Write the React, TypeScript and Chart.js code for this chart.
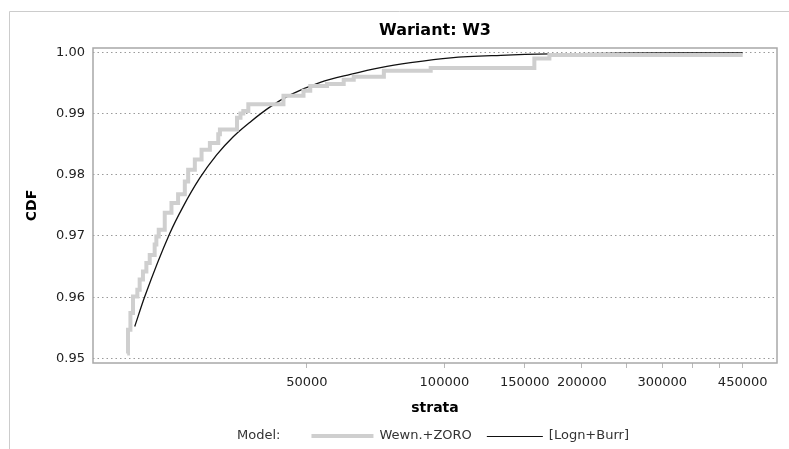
import React, { useEffect, useRef } from "react";
import { Chart, registerables } from "chart.js";

Chart.register(...registerables);

const TITLE = "Wariant: W3";
const X_TITLE = "strata";
const Y_TITLE = "CDF";
const LEGEND_TITLE = "Model:";
const SERIES_LABELS = ["Wewn.+ZORO", "[Logn+Burr]"];

const X_TICKS = [50000, 100000, 150000, 200000, 250000, 300000, 350000, 400000, 450000];
const X_TICK_LABELED = [50000, 100000, 150000, 200000, 300000, 450000];
const Y_TICKS = [0.95, 0.96, 0.97, 0.98, 0.99, 1.0];

// empirical CDF (step function)
const empX = [
  20200, 20280, 20530, 20800, 21260, 21510, 21870, 22250, 22630, 23200, 23400, 23680,
  24410, 25250, 26110, 27010, 27470, 28410, 29390, 30650, 31970, 32240, 35140, 35760,
  36275, 37205, 44415, 49140, 50840, 55330, 60180, 63300, 73690, 93320, 157400, 169800,
  450000,
];
const empY = [
  0.9508, 0.9547, 0.9574, 0.9601, 0.9612, 0.9629, 0.9642, 0.9656, 0.9669, 0.9686, 0.9699, 0.971,
  0.9738, 0.9754, 0.9768, 0.9789, 0.9808, 0.9825, 0.9841, 0.9852, 0.9866, 0.9874, 0.9893, 0.99,
  0.9904, 0.9915, 0.9929, 0.9937, 0.9945, 0.9948, 0.9955, 0.996, 0.997, 0.99745, 0.999, 0.99954,
  0.99954,
];

// fitted model CDF
const fitX = [
  20980, 22070, 25030, 26780, 29140, 31710, 34480, 37530, 41530, 45950, 53480, 62260,
  72460, 84330, 103250, 133000, 171200, 244000, 330000, 450000,
];
const fitY = [
  0.9552, 0.9601, 0.9704, 0.9748, 0.97948, 0.98325, 0.98621, 0.98859, 0.99108, 0.99304, 0.9951, 0.9964,
  0.9975, 0.9983, 0.9991, 0.99951, 0.99974, 0.99985, 0.99989, 0.99991,
];

const FONT = '"DejaVu Sans", sans-serif';
const GRAY = "#cfcfcf";
const BLACK = "#111111";

const decorPlugin = {
  id: "decor",
  beforeDraw(chart: any) {
    const { ctx, width, height } = chart;
    ctx.save();
    ctx.fillStyle = "#ffffff";
    ctx.fillRect(0, 0, width, height);
    ctx.strokeStyle = "#cccccc";
    ctx.lineWidth = 1;
    ctx.beginPath();
    ctx.moveTo(9.5, height + 2);
    ctx.lineTo(9.5, 11.5);
    ctx.lineTo(width + 2, 11.5);
    ctx.stroke();
    ctx.restore();
  },
  afterDraw(chart: any) {
    const { ctx, chartArea } = chart;
    const { left, right, top, bottom } = chartArea;
    ctx.save();
    // plot frame
    ctx.strokeStyle = "#a8a8a8";
    ctx.lineWidth = 1.5;
    ctx.strokeRect(left, top, right - left, bottom - top);

    const cx = (left + right) / 2;
    // title
    ctx.fillStyle = "#000000";
    ctx.font = `bold 16px ${FONT}`;
    ctx.textAlign = "center";
    ctx.textBaseline = "middle";
    ctx.fillText(TITLE, cx, 31);

    // legend
    const ds = chart.data.datasets;
    ctx.font = `13px ${FONT}`;
    ctx.textAlign = "left";
    const wT = ctx.measureText(LEGEND_TITLE).width;
    const w1 = ctx.measureText(ds[0].label).width;
    const w2 = ctx.measureText(ds[1].label).width;
    const gapT = 31, l1 = 62, l2 = 56, g = 6, gapItem = 15;
    const total = wT + gapT + l1 + g + w1 + gapItem + l2 + g + w2;
    let x = cx - 2 - total / 2;
    const y = 436;
    ctx.fillStyle = "#333333";
    ctx.fillText(LEGEND_TITLE, x, y);
    x += wT + gapT;
    ctx.strokeStyle = ds[0].borderColor;
    ctx.lineWidth = ds[0].borderWidth;
    ctx.beginPath();
    ctx.moveTo(x, y);
    ctx.lineTo(x + l1, y);
    ctx.stroke();
    x += l1 + g;
    ctx.fillText(ds[0].label, x, y);
    x += w1 + gapItem;
    ctx.strokeStyle = ds[1].borderColor;
    ctx.lineWidth = 1;
    ctx.beginPath();
    ctx.moveTo(x, y + 0.5);
    ctx.lineTo(x + l2, y + 0.5);
    ctx.stroke();
    x += l2 + g;
    ctx.fillText(ds[1].label, x, y);
    ctx.restore();
  },
};

export default function App() {
  const ref = useRef<HTMLCanvasElement | null>(null);
  useEffect(() => {
    if (!ref.current) return;
    const chart = new Chart(ref.current, {
      type: "line",
      data: {
        datasets: [
          {
            label: SERIES_LABELS[0],
            data: empX.map((x, i) => ({ x, y: empY[i] })),
            borderColor: GRAY,
            borderWidth: 4,
            stepped: true,
            pointRadius: 0,
            borderCapStyle: "butt",
            borderJoinStyle: "miter",
          },
          {
            label: SERIES_LABELS[1],
            data: fitX.map((x, i) => ({ x, y: fitY[i] })),
            borderColor: BLACK,
            borderWidth: 1.3,
            cubicInterpolationMode: "monotone",
            pointRadius: 0,
          },
        ],
      },
      options: {
        responsive: false,
        animation: false,
        layout: { padding: { top: 48, right: 12, bottom: 30, left: 0 } },
        plugins: {
          legend: { display: false },
          title: { display: false },
          tooltip: { enabled: false },
        },
        scales: {
          x: {
            type: "logarithmic",
            min: 17000,
            max: 535000,
            afterBuildTicks: (scale: any) => {
              scale.ticks = X_TICKS.map((v) => ({ value: v }));
            },
            afterFit: (scale: any) => {
              scale.height = 56;
            },
            grid: {
              display: true,
              drawOnChartArea: false,
              drawTicks: true,
              tickLength: 5,
              tickColor: "#b8b8b8",
              tickWidth: 1,
            },
            border: { display: false },
            ticks: {
              autoSkip: false,
              maxRotation: 0,
              padding: 7,
              color: "#222222",
              font: { family: FONT, size: 13 },
              callback: (v: any) => (X_TICK_LABELED.includes(Number(v)) ? String(v) : ""),
            },
            title: {
              display: true,
              text: X_TITLE,
              color: "#000000",
              font: { family: FONT, size: 14, weight: "bold" },
              padding: { top: 0, bottom: 2.6 },
            },
          },
          y: {
            type: "linear",
            min: 0.94925,
            max: 1.0007,
            afterBuildTicks: (scale: any) => {
              scale.ticks = Y_TICKS.map((v) => ({ value: v }));
            },
            afterFit: (scale: any) => {
              scale.width = 93;
            },
            grid: {
              display: true,
              drawTicks: false,
              color: "#9a9a9a",
              lineWidth: 1,
            },
            border: { display: false, dash: [1.5, 3] },
            ticks: {
              padding: 8,
              color: "#222222",
              font: { family: FONT, size: 13 },
              callback: (v: any) => Number(v).toFixed(2),
            },
            title: {
              display: true,
              text: Y_TITLE,
              color: "#000000",
              font: { family: FONT, size: 14, weight: "bold" },
              padding: { top: 23.6, bottom: 0 },
            },
          },
        },
      },
      plugins: [decorPlugin],
    } as any);
    return () => chart.destroy();
  }, []);
  return (
    <div style={{ position: "fixed", left: 0, top: 0, width: 789, height: 449 }}>
      <canvas ref={ref} width={789} height={449} style={{ display: "block" }} />
    </div>
  );
}
